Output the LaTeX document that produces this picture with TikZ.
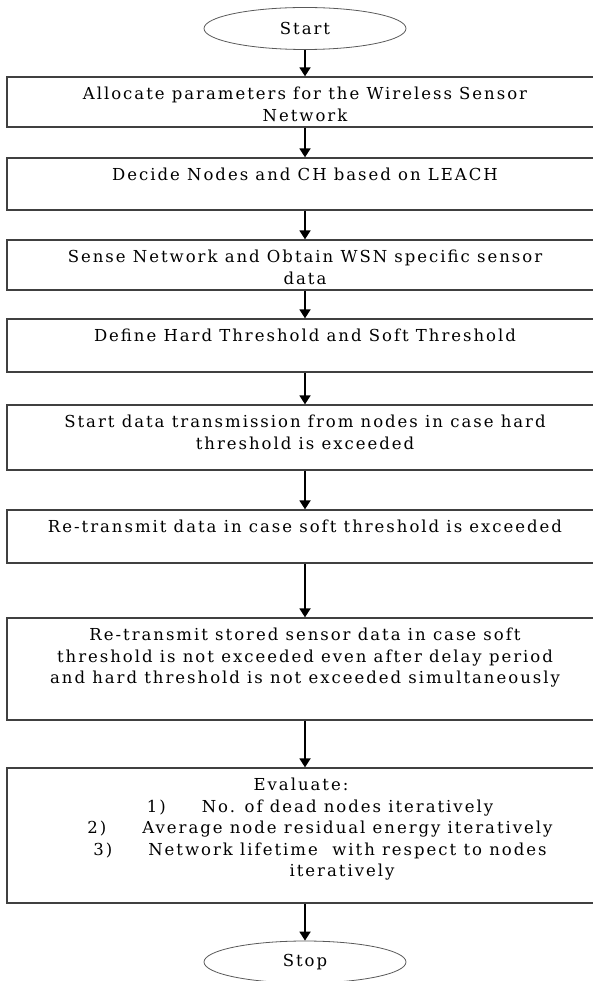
\documentclass[tikz,border=0pt]{standalone}
\usepackage{fontspec}
\setmainfont{DejaVu Serif}[LetterSpace=12]
\usetikzlibrary{shapes.geometric,arrows.meta}
\tikzset{
	termnode/.style={ellipse, draw=black!65, thick, minimum width=202pt, minimum height=42pt, inner sep=0pt},
	stepnode/.style={rectangle, draw=black!75, line width=1.3pt, minimum width=596pt, inner sep=0pt},
	flowarrow/.style={-{Triangle[width=11pt,length=9pt]}, line width=1.8pt}
}
\newcommand{\boxtext}[2]{\parbox[c][#1][t]{590pt}{\centering\vspace{10pt}#2}}

\begin{document}
\begin{tikzpicture}[x=1pt, y=-1pt, font=\fontsize{16.5pt}{21.5pt}\selectfont]
		\useasboundingbox (0,0) rectangle (592,981);
		\node[termnode] at (305,28.5) (start) {Start};
		\node[stepnode] at (305,102) (alloc) {\boxtext{50pt}{Allocate parameters for the Wireless Sensor\\Network}};
		\node[stepnode] at (305,184) (leach) {\boxtext{52pt}{Decide Nodes and CH based on LEACH}};
		\node[stepnode] at (305,265) (sense) {\boxtext{50pt}{Sense Network and Obtain WSN specific sensor\\data}};
		\node[stepnode] at (305,345.5) (thresh) {\boxtext{53pt}{Define Hard Threshold and Soft Threshold}};
		\node[stepnode] at (305,437.5) (hard) {\boxtext{65pt}{Start data transmission from nodes in case hard\\threshold is exceeded}};
		\node[stepnode] at (305,536.5) (soft) {\boxtext{53pt}{Re-transmit data in case soft threshold is exceeded}};
		\node[stepnode] at (305,669) (stored) {\boxtext{102pt}{Re-transmit stored sensor data in case soft\\threshold is not exceeded even after delay period\\and hard threshold is not exceeded simultaneously}};
		\node[stepnode] at (305,835.5) (eval) {\boxtext{135pt}{\hspace*{-8pt}Evaluate:\\
			\hspace*{30pt}1)\hspace{36pt}No. of dead nodes iteratively\\
			\hspace*{30pt}2)\hspace{36pt}Average node residual energy iteratively\\
			\hspace*{30pt}3)\hspace{36pt}Network lifetime\ \ with respect to nodes\\
			\hspace*{74pt}iteratively}};
		\node[termnode] at (305,962) (stop) {Stop};
		
		%Lines
		\draw[flowarrow] (start.south) -- (alloc.north);
		\draw[flowarrow] (alloc.south) -- (leach.north);
		\draw[flowarrow] (leach.south) -- (sense.north);
		\draw[flowarrow] (sense.south) -- (thresh.north);
		\draw[flowarrow] (thresh.south) -- (hard.north);
		\draw[flowarrow] (hard.south) -- (soft.north);
		\draw[flowarrow] (soft.south) -- (stored.north);
		\draw[flowarrow] (stored.south) -- (eval.north);
		\draw[flowarrow] (eval.south) -- (stop.north);
		
\end{tikzpicture}
\end{document}
